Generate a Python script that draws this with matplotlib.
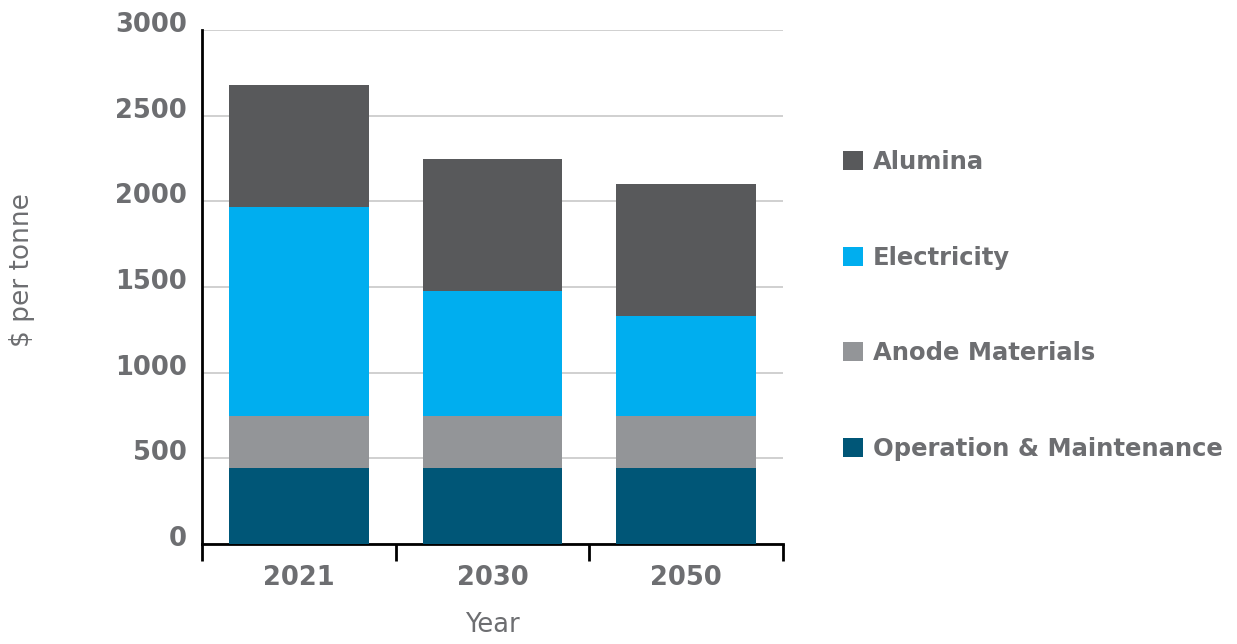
import matplotlib
matplotlib.use("Agg")
import matplotlib.pyplot as plt
import matplotlib.transforms as mtransforms
import numpy as np

years = ["2021", "2030", "2050"]
om = [445, 445, 445]
anode = [305, 305, 305]
electricity = [1215, 728, 582]
alumina = [712, 768, 768]
series_names = ["Operation & Maintenance", "Anode Materials", "Electricity", "Alumina"]
colors = ["#005677", "#939598", "#00aeef", "#58595b"]
yticks = [0, 500, 1000, 1500, 2000, 2500, 3000]

txt = "#6d6e71"
plt.rcParams['font.family'] = ['DejaVu Sans']

fig = plt.figure(figsize=(12.37, 6.44), dpi=100)
ax = fig.add_axes([202/1237, 100/644, 581/1237, 514/644])

x = np.arange(len(years))
bottom = np.zeros(len(years))
handles = []
for vals, name, c in zip([om, anode, electricity, alumina], series_names, colors):
    b = ax.bar(x, vals, width=0.72, bottom=bottom, color=c, label=name, zorder=3)
    handles.append(b)
    bottom += np.array(vals)

ax.set_xlim(-0.5, 2.5)
ax.set_ylim(0, 3000)
ax.set_yticks(yticks)
ax.set_yticklabels([str(t) for t in yticks], fontsize=18.5, fontweight='bold', color=txt)
ax.set_xticks(x)
ax.set_xticklabels(years, fontsize=18.5, fontweight='bold', color=txt)
ax.set_xticks([-0.5, 0.5, 1.5, 2.5], minor=True)
ax.tick_params(axis='x', which='major', length=0, pad=15)
ax.tick_params(axis='x', which='minor', length=12, width=2, color='black', direction='out')
ax.tick_params(axis='y', length=0, pad=11)
off = mtransforms.ScaledTranslation(0, 0.08, fig.dpi_scale_trans)
for lbl in ax.get_yticklabels():
    lbl.set_transform(lbl.get_transform() + off)
ax.yaxis.grid(True, color='#c8c8c8', linewidth=1.2, zorder=0)
ax.set_axisbelow(True)
for s in ['top', 'right']:
    ax.spines[s].set_visible(False)
ax.spines['left'].set_linewidth(2)
ax.spines['bottom'].set_linewidth(2)

fig.text(492/1237, 1 - 625/644, "Year", fontsize=18.5, color=txt, ha='center', va='center')
fig.text(22/1237, 1 - 270/644, "$ per tonne", fontsize=19, color=txt, ha='center', va='center', rotation=90)

leg = fig.legend(handles[::-1], series_names[::-1], loc='upper left',
                 bbox_to_anchor=(821/1237, 1 - 128/644), frameon=False,
                 prop={'size': 17.5, 'weight': 'bold'}, labelspacing=2.95,
                 handlelength=0.82, handleheight=0.82, handletextpad=0.4)
for t in leg.get_texts():
    t.set_color(txt)

fig.savefig("out.png", dpi=100)
